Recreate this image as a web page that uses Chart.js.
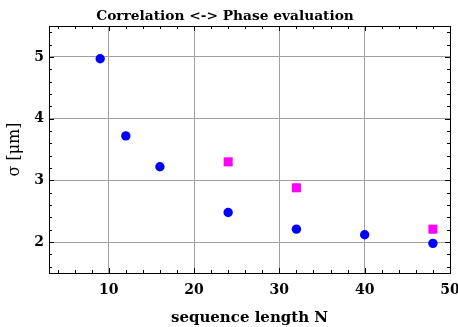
<!DOCTYPE html>
<html>
<head>
<meta charset="utf-8">
<script src="https://cdn.jsdelivr.net/npm/chart.js@4"></script>
<style>
  html, body { margin: 0; padding: 0; background: #fff; }
  #wrap { width: 458px; height: 327px; }
</style>
</head>
<body>
<div id="wrap"><canvas id="chart"></canvas></div>
<script>
// data
const correlationN = [9, 12, 16, 24, 32, 40, 48];
const correlationSigma = [4.97, 3.72, 3.22, 2.48, 2.21, 2.12, 1.98];
const phaseN = [24, 32, 48];
const phaseSigma = [3.30, 2.88, 2.21];
const xTicks = [10, 20, 30, 40, 50];
const yTicks = [2, 3, 4, 5];

const serif = "'DejaVu Serif', 'Liberation Serif', serif";

const toPoints = (xs, ys) => xs.map((x, i) => ({ x: x, y: ys[i] }));

// inward ticks on all four sides + full frame
const frameTicks = {
    id: "frameTicks",
    afterDatasetsDraw(chart) {
        const { ctx, chartArea: a, scales } = chart;
        const xs = scales.x, ys = scales.y;
        ctx.save();
        ctx.strokeStyle = "#000";
        ctx.lineWidth = 1;
        ctx.beginPath();
        for (let v = 4; v <= 50; v += 2) {
            const px = Math.round(xs.getPixelForValue(v)) + 0.5;
            const len = v % 10 === 0 ? 5 : 3;
            ctx.moveTo(px, a.bottom); ctx.lineTo(px, a.bottom - len);
            ctx.moveTo(px, a.top); ctx.lineTo(px, a.top + len);
        }
        for (let k = 8; k <= 27; k++) {
            const v = k / 5;
            const py = Math.round(ys.getPixelForValue(v)) + 0.5;
            const len = k % 5 === 0 ? 5 : 3;
            ctx.moveTo(a.left, py); ctx.lineTo(a.left + len, py);
            ctx.moveTo(a.right, py); ctx.lineTo(a.right - len, py);
        }
        ctx.stroke();
        ctx.strokeRect(Math.round(a.left) + 0.5, Math.round(a.top) + 0.5,
            Math.round(a.right - a.left), Math.round(a.bottom - a.top));
        ctx.restore();
    }
};

new Chart(document.getElementById("chart"), {
    type: "scatter",
    data: {
        datasets: [
            {
                label: "Correlation",
                data: toPoints(correlationN, correlationSigma),
                pointStyle: "circle",
                pointRadius: 4.7,
                backgroundColor: "#0000ff",
                borderColor: "#0000ff",
                borderWidth: 0,
            },
            {
                label: "Phase evaluation",
                data: toPoints(phaseN, phaseSigma),
                pointStyle: "rect",
                pointRadius: 6.4,
                backgroundColor: "#ff00ff",
                borderColor: "#ff00ff",
                borderWidth: 0,
            },
        ],
    },
    options: {
        responsive: true,
        maintainAspectRatio: false,
        animation: false,
        layout: { padding: { right: 8 } },
        plugins: {
            legend: { display: false },
            tooltip: { enabled: false },
            title: {
                display: true,
                text: "Correlation <-> Phase evaluation",
                color: "#000",
                font: { family: serif, size: 13.75, weight: "bold", lineHeight: 1.2 },
                padding: { top: 8, bottom: 1.5 },
            },
        },
        scales: {
            x: {
                type: "linear",
                min: 3,
                max: 50,
                afterBuildTicks: (s) => { s.ticks = xTicks.map((v) => ({ value: v })); },
                afterFit: (s) => { s.height = 54; s.paddingLeft = 0; s.paddingRight = 0; },
                grid: { color: "#a0a0a0", lineWidth: 1, drawTicks: false },
                border: { color: "#000", width: 1 },
                ticks: {
                    color: "#000",
                    padding: 9,
                    font: { family: serif, size: 14, weight: "bold" },
                },
                title: {
                    display: true,
                    text: "sequence length N",
                    color: "#000",
                    font: { family: serif, size: 15, weight: "bold" },
                    padding: { top: 0, bottom: 0 },
                },
            },
            y: {
                type: "linear",
                min: 1.5,
                max: 5.5,
                afterBuildTicks: (s) => { s.ticks = yTicks.map((v) => ({ value: v })); },
                afterFit: (s) => { s.width = 49; },
                grid: { color: "#a0a0a0", lineWidth: 1, drawTicks: false },
                border: { color: "#000", width: 1 },
                ticks: {
                    color: "#000",
                    padding: 5,
                    font: { family: serif, size: 14, weight: "bold" },
                },
                title: {
                    display: true,
                    text: "σ [μm]",
                    color: "#000",
                    font: { family: serif, size: 16 },
                    padding: { top: 5.4, bottom: 0 },
                },
            },
        },
    },
    plugins: [frameTicks],
});
</script>
</body>
</html>
